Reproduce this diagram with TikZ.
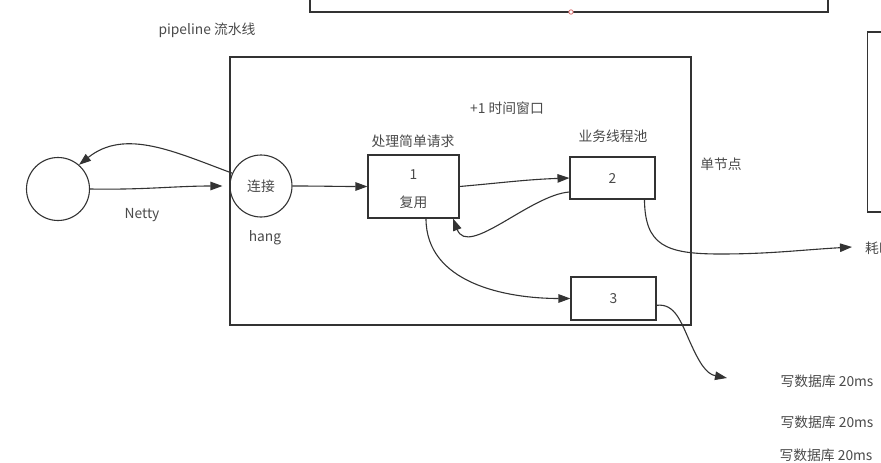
\documentclass[tikz,border=0pt]{standalone}
\usepackage{fontspec}
\setmainfont{Noto Sans CJK SC}
\usetikzlibrary{arrows.meta,calc}
\definecolor{ln}{HTML}{333333}
\definecolor{tx}{HTML}{4a4a4a}
\tikzset{
  every node/.style={font=\fontsize{13.8}{16}\selectfont, text=tx, inner sep=0pt},
  frame/.style={draw=ln, line width=1.1pt},
  boxn/.style={draw=ln, line width=1.1pt, rectangle, minimum width=#1},
  circn/.style={draw=ln, line width=1.1pt, circle},
  conn/.style={draw=ln, line width=1.1pt, -{Triangle[length=12pt,width=8.5pt]}}
}
\begin{document}
\begin{tikzpicture}[x=1pt,y=1pt]
\useasboundingbox (0,0) rectangle (881,-463);
\clip (0,0) rectangle (881,-463);
% frames
\draw[frame] (310,10) -- (310,-12) -- (828,-12) -- (828,10);
\draw[draw=ln!30!red!60, line width=0.8pt, fill=white] (571,-12) circle (2.2pt);
\draw[frame] (230,-57) rectangle (691,-325);
\draw[frame] (900,-32) -- (867.5,-32) -- (867.5,-212) -- (900,-212);
% nodes
\node[circn, minimum size=63pt] (left) at (58,-189) {};
\node[circn, minimum size=62pt] (cn) at (261,-186) {连接};
\node[boxn=91pt, minimum height=63pt] (b1) at (413.5,-186.5) {};
\node[boxn=85pt, minimum height=42pt] (b2) at (612.5,-178) {2};
\node[boxn=85pt, minimum height=43pt] (b3) at (613.5,-298.5) {3};
\node (b1a) at (413.5,-175) {1};
\node (b1b) at (413.5,-202) {复用};
% labels
\node (pl) at (207,-30) {pipeline 流水线};
\node (tw) at (507,-108) {+1 时间窗口};
\node (l1) at (413,-141) {处理简单请求};
\node (l2) at (613,-136) {业务线程池};
\node (dj) at (721,-164) {单节点};
\node (ny) at (142,-215) {Netty};
\node (hg) at (265,-238) {hang};
\node[anchor=west] (hs) at (865,-248) {耗时};
\node (w1) at (827,-381) {写数据库 20ms};
\node (w2) at (827,-422) {写数据库 20ms};
\node (w3) at (826,-455) {写数据库 20ms};
\coordinate (t2) at (852,-247);
\coordinate (t3) at (727,-378);
% connectors
\draw[conn] (cn.156) .. controls (175,-152) and (125,-128) .. (left.49);
\draw[conn, shorten >=7pt] (left.east) to[out=-1,in=180] (cn.west);
\draw[conn] (cn.east) to[out=0,in=180] (b1.west);
\draw[conn] (b1.east) to[out=5,in=182] (b2.west);
\draw[conn] (b2.198) .. controls (530,-195) and (468,-258) .. (b1.-39);
\draw[conn] ($(b1.south)+(12.5,0)$) to[out=-90,in=180] (b3.west);
\draw[conn] (b2.-34) .. controls (645,-245) and (665,-254) .. (720,-254) .. controls (770,-254) and (800,-250) .. (t2);
\draw[conn] (b3.-9) .. controls (675,-303) and (681,-322) .. (690,-342) .. controls (699,-362) and (706,-374) .. (t3);
\end{tikzpicture}
\end{document}
